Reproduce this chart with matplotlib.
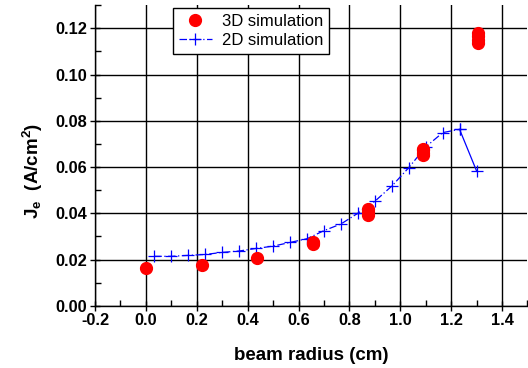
import numpy as np
import matplotlib
matplotlib.use("Agg")
import matplotlib.pyplot as plt
from matplotlib.ticker import MultipleLocator

# 2D simulation (blue crosses, dash-dot line)
x2d = [0.033, 0.100, 0.167, 0.233, 0.300, 0.367, 0.433, 0.500, 0.567, 0.633,
       0.700, 0.767, 0.833, 0.900, 0.967, 1.033, 1.100, 1.167, 1.233, 1.300]
y2d = [0.0214, 0.0214, 0.0218, 0.0222, 0.0231, 0.0237, 0.0248, 0.0258, 0.0274, 0.0290,
       0.0325, 0.0354, 0.0400, 0.0452, 0.0518, 0.0597, 0.0687, 0.0749, 0.0763, 0.0583]

# 3D simulation (red dots, several runs per radius)
x3d = [0.000, 0.220, 0.438,
       0.656, 0.656, 0.656,
       0.875, 0.875, 0.875,
       1.091, 1.091, 1.091, 1.091,
       1.305, 1.305, 1.305, 1.305]
y3d = [0.0165, 0.0175, 0.0206,
       0.0266, 0.0270, 0.0275,
       0.0394, 0.0405, 0.0418,
       0.0654, 0.0662, 0.0672, 0.0680,
       0.1137, 0.1150, 0.1165, 0.1178]

plt.rcParams.update({
    "font.family": ["Liberation Sans", "DejaVu Sans"],
    "mathtext.fontset": "custom",
    "mathtext.rm": "Liberation Sans:bold",
    "mathtext.it": "Liberation Sans:bold",
    "mathtext.bf": "Liberation Sans:bold",
})

fig = plt.figure(figsize=(5.28, 3.68), dpi=100)
ax = fig.add_axes([0.180, 0.169, 0.819, 0.817])

ax.grid(True, which="major", color="black", lw=1.0, zorder=0)
ax.set_axisbelow(True)

ax.plot(x2d[:-1], y2d[:-1], color="blue", lw=0.9, ls=(0, (6, 2, 1, 2)),
        marker="+", ms=9, mew=0.9, zorder=3)
ax.plot(x2d[-2:], y2d[-2:], color="blue", lw=0.9, ls="-",
        marker="+", ms=9, mew=0.9, zorder=3)
ax.plot(x3d, y3d, ls="none", marker="o", ms=8.5, color="red", mec="red", zorder=4)

# legend proxies
h3d, = ax.plot([], [], ls="none", marker="o", ms=8.5, color="red")
h2d, = ax.plot([], [], color="blue", lw=0.9, ls=(0, (6, 2, 1, 2)), marker="+", ms=9, mew=0.9)
leg = ax.legend([h3d, h2d], ["3D simulation", "2D simulation"],
                loc="upper left", bbox_to_anchor=(0.180, 0.990),
                fancybox=False, framealpha=1, edgecolor="black",
                fontsize=12, handlelength=2.0, borderpad=0.35,
                labelspacing=0.25, handletextpad=0.6, borderaxespad=0)
leg.get_frame().set_linewidth(1.0)

ax.set_xlim(-0.2, 1.5)
ax.set_ylim(0, 0.13)
ax.set_xticks(np.arange(-0.2, 1.41, 0.2))
ax.set_yticks(np.arange(0, 0.121, 0.02))
ax.xaxis.set_minor_locator(MultipleLocator(0.1))
ax.yaxis.set_minor_locator(MultipleLocator(0.01))
ax.set_xticklabels([f"{v:.1f}" for v in np.arange(-0.2, 1.41, 0.2)])
ax.set_yticklabels([f"{v:.2f}" for v in np.arange(0, 0.121, 0.02)])

ax.tick_params(which="major", direction="inout", length=7, width=1,
               labelsize=11.8, pad=2)
ax.tick_params(which="minor", direction="in", length=4, width=1)
for lab in ax.get_xticklabels() + ax.get_yticklabels():
    lab.set_fontweight("bold")

for s in ["top", "right"]:
    ax.spines[s].set_visible(False)
for s in ["left", "bottom"]:
    ax.spines[s].set_linewidth(1.0)

ax.set_xlabel("beam radius (cm)", fontsize=13.5, fontweight="bold", labelpad=13)
ax.set_ylabel(r"J$_{e}$  (A/cm$^{2}$)", fontsize=13.5, fontweight="bold")
ax.yaxis.set_label_coords(-0.115, 0.45)

fig.savefig("out.png", dpi=100)
